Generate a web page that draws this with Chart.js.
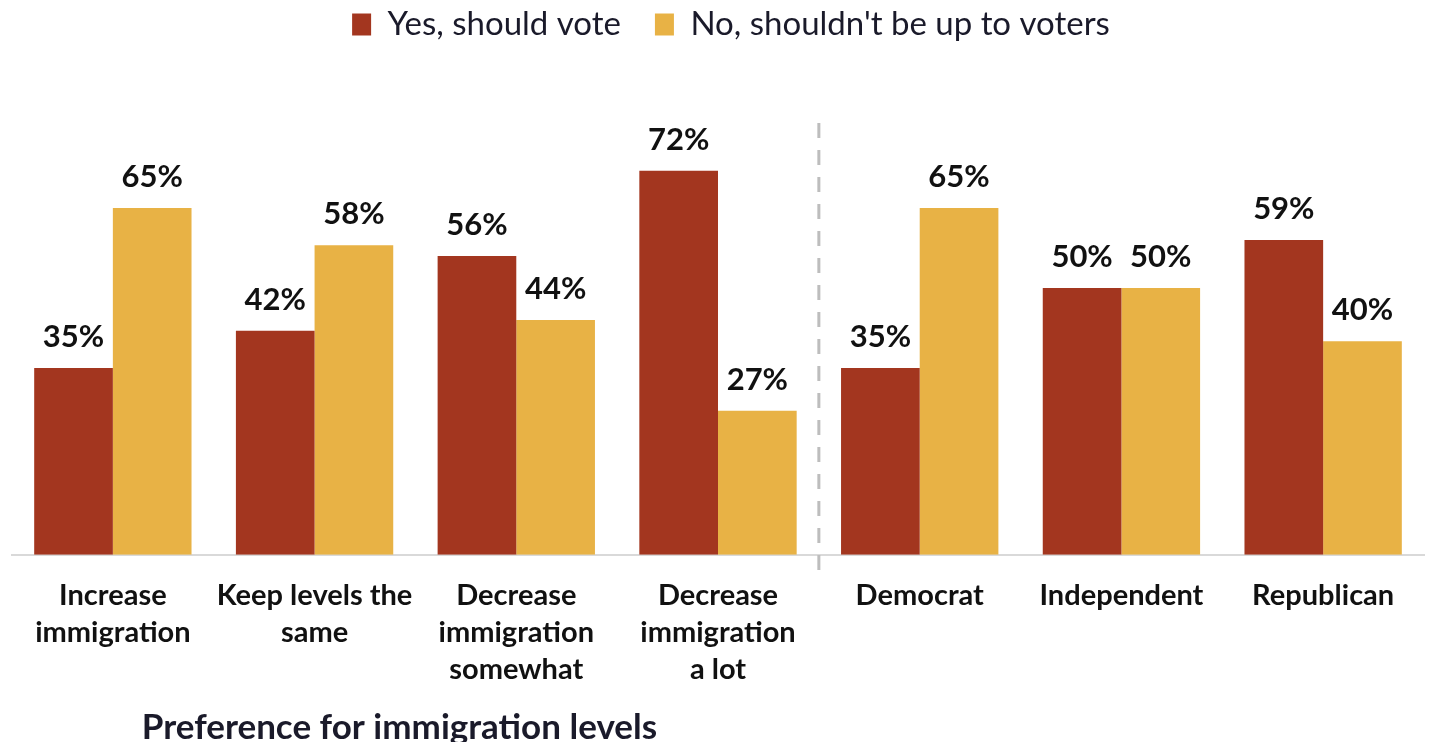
<!DOCTYPE html>
<html>
<head>
<meta charset="utf-8">
<script src="https://cdn.jsdelivr.net/npm/chart.js@4"></script>
<style>
  html, body { margin: 0; padding: 0; background: #fff; }
  #wrap { width: 1429px; height: 742px; }
</style>
</head>
<body>
<div id="wrap"><canvas id="chart"></canvas></div>
<script>
const categories = [
  ['Increase', 'immigration'],
  ['Keep levels the', 'same'],
  ['Decrease', 'immigration', 'somewhat'],
  ['Decrease', 'immigration', 'a lot'],
  'Democrat',
  'Independent',
  'Republican'
]
const yesVote = [35, 42, 56, 72, 35, 50, 59]
const noVote = [65, 58, 44, 27, 65, 50, 40]
const seriesNames = ['Yes, should vote', "No, shouldn't be up to voters"]
const groupTitle = 'Preference for immigration levels'

const red = '#A3361F'
const gold = '#E8B245'

// value labels above each bar
const barLabels = {
  id: 'barLabels',
  afterDatasetsDraw(chart) {
    const ctx = chart.ctx
    ctx.save()
    ctx.font = 'bold 31px Lato'
    ctx.fillStyle = '#111'
    ctx.textAlign = 'center'
    ctx.textBaseline = 'alphabetic'
    chart.data.datasets.forEach((ds, i) => {
      chart.getDatasetMeta(i).data.forEach((bar, j) => {
        ctx.fillText(ds.data[j] + '%', bar.x, bar.y - 21)
      })
    })
    ctx.restore()
  }
}

// extra room under the legend, legend nudged right a bit
const legendSpace = {
  id: 'legendSpace',
  beforeInit(chart) {
    const fit = chart.legend.fit
    chart.legend.fit = function () {
      fit.bind(chart.legend)()
      this.height += 77
    }
  },
  beforeDraw(chart) {
    const lg = chart.legend
    if (lg && !lg._nudged) {
      lg.left += 13
      lg.right += 13
      lg.legendHitBoxes.forEach(b => { b.left += 13 })
      lg._nudged = true
    }
  }
}

// dashed divider + group title
const extras = {
  id: 'extras',
  afterDraw(chart) {
    const ctx = chart.ctx
    const x = chart.scales.x
    const area = chart.chartArea
    const mid = (x.getPixelForValue(3) + x.getPixelForValue(4)) / 2
    ctx.save()
    ctx.strokeStyle = '#BDBDBD'
    ctx.lineWidth = 3
    ctx.setLineDash([15, 12])
    ctx.beginPath()
    ctx.moveTo(mid, area.top - 5)
    ctx.lineTo(mid, area.bottom + 18)
    ctx.stroke()
    ctx.setLineDash([])
    const left = x.getPixelForValue(0)
    const right = x.getPixelForValue(3)
    ctx.font = 'bold 35px Lato'
    ctx.fillStyle = '#1a1a2a'
    ctx.textAlign = 'center'
    ctx.textBaseline = 'alphabetic'
    ctx.fillText(groupTitle, (left + right) / 2 - 16, 739)
    ctx.restore()
  }
}

new Chart(document.getElementById('chart'), {
  type: 'bar',
  data: {
    labels: categories,
    datasets: [
      { label: seriesNames[0], data: yesVote, backgroundColor: red },
      { label: seriesNames[1], data: noVote, backgroundColor: gold }
    ]
  },
  options: {
    responsive: true,
    maintainAspectRatio: false,
    animation: false,
    devicePixelRatio: 1,
    categoryPercentage: 0.78,
    barPercentage: 1.0,
    layout: { padding: { top: -26, left: 12, right: 5, bottom: 32 } },
    plugins: {
      legend: {
        position: 'top',
        labels: {
          boxWidth: 19,
          boxHeight: 22,
          padding: 34,
          color: '#1a1a2a',
          font: { family: 'Lato', size: 33 }
        }
      },
      tooltip: { enabled: false }
    },
    scales: {
      x: {
        grid: { display: false, drawTicks: false },
        border: { display: true, color: '#D9D9D9', width: 2 },
        ticks: {
          padding: 22,
          color: '#111',
          maxRotation: 0,
          autoSkip: false,
          font: { family: 'Lato', size: 29, weight: 'bold', lineHeight: 1.28 }
        }
      },
      y: {
        display: false,
        min: 0,
        max: 80
      }
    }
  },
  plugins: [legendSpace, barLabels, extras]
})
</script>
</body>
</html>
